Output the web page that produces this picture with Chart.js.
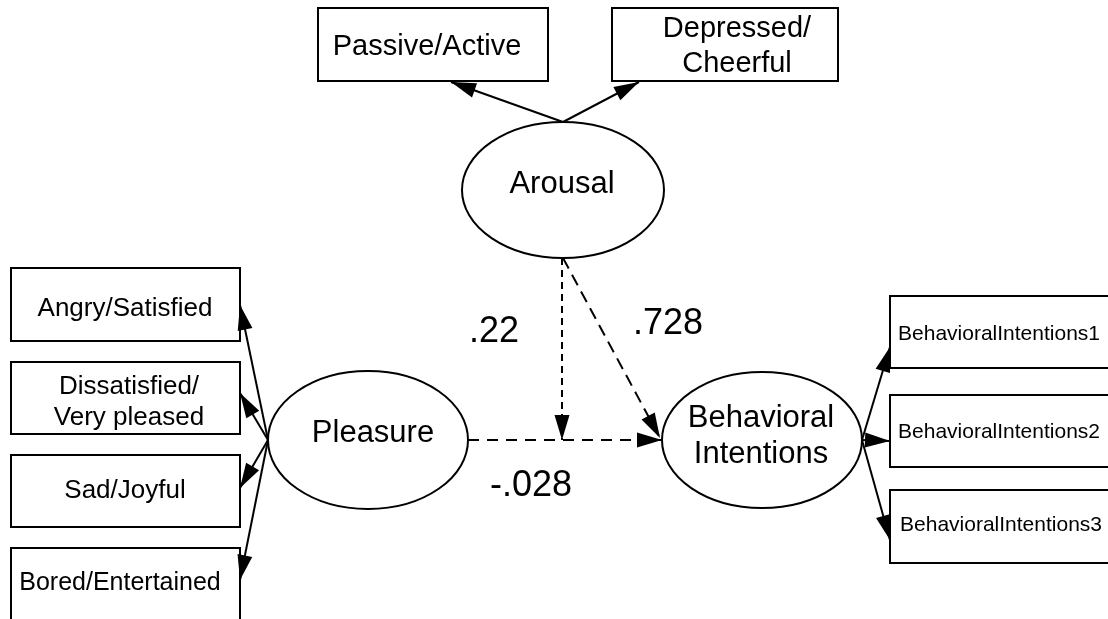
<!DOCTYPE html>
<html>
<head>
<meta charset="utf-8">
<script src="https://cdn.jsdelivr.net/npm/chart.js@4/dist/chart.umd.min.js"></script>
<style>
  html, body { margin: 0; padding: 0; background: #fff; }
  #wrap { width: 1108px; height: 619px; position: relative; }
</style>
</head>
<body>
<div id="wrap"><canvas id="sem"></canvas></div>
<script>
// SEM path diagram: Pleasure / Arousal -> Behavioral Intentions
// 좌표계: x 0..1108, y 0..619 (위→아래) — Chart.js linear 축으로 픽셀 변환

// ── 데이터 ──
const latentNames     = ['Arousal', 'Pleasure', 'Behavioral\nIntentions'];
const arousalItems    = ['Passive/Active', 'Depressed/\nCheerful'];
const pleasureItems   = ['Angry/Satisfied', 'Dissatisfied/\nVery pleased', 'Sad/Joyful', 'Bored/Entertained'];
const intentionItems  = ['BehavioralIntentions1', 'BehavioralIntentions2', 'BehavioralIntentions3'];
const pathCoefs       = ['.22', '.728', '-.028'];   // 조절효과, Arousal→BI, Pleasure→BI

// ── 레이아웃 (도식 좌표) ──
const LATENT = [
  { cx: 563, cy: 190, rx: 101, ry: 68, tx: 562, ty: [193],      size: 31 },
  { cx: 368, cy: 440, rx: 100, ry: 69, tx: 373, ty: [442],      size: 31 },
  { cx: 762, cy: 440, rx: 100, ry: 68, tx: 761, ty: [427, 463], size: 31 },
];
const BOX_AROUSAL = [
  { x: 318, y: 8, w: 230, h: 73, tx: 427, ty: [55],     size: 29 },
  { x: 612, y: 8, w: 226, h: 73, tx: 737, ty: [37, 72], size: 29 },
];
const BOX_PLEASURE = [
  { x: 11, y: 268, w: 229, h: 73, tx: 125, ty: [316],      size: 26 },
  { x: 11, y: 362, w: 229, h: 72, tx: 129, ty: [394, 425], size: 26 },
  { x: 11, y: 455, w: 229, h: 72, tx: 125, ty: [498],      size: 26 },
  { x: 11, y: 548, w: 229, h: 90, tx: 120, ty: [590],      size: 25 },
];
const BOX_INTENT = [
  { x: 890, y: 296, w: 240, h: 72, tx: 999,  ty: [340], size: 21 },
  { x: 890, y: 395, w: 240, h: 72, tx: 999,  ty: [438], size: 21 },
  { x: 890, y: 490, w: 240, h: 73, tx: 1001, ty: [531], size: 21 },
];
const COEF_POS = [ { x: 494, y: 342 }, { x: 668, y: 334 }, { x: 531, y: 496 } ];

// 화살표: [시작, 끝(화살촉)], dash
const EDGES = [
  { a: [563, 122], b: [451, 82],  dash: [] },
  { a: [563, 122], b: [639, 82],  dash: [] },
  { a: [268, 440], b: [240, 305], dash: [] },
  { a: [268, 440], b: [240, 393], dash: [] },
  { a: [268, 440], b: [240, 488], dash: [] },
  { a: [268, 440], b: [240, 580], dash: [] },
  { a: [862, 440], b: [890, 347], dash: [] },
  { a: [862, 440], b: [890, 441], dash: [] },
  { a: [862, 440], b: [890, 540], dash: [] },
  { a: [468, 440], b: [662, 440], dash: [11, 8] },
  { a: [562, 258], b: [562, 440], dash: [7, 5] },
  { a: [563, 258], b: [660, 438], dash: [12, 7] },
];

const FONT = '"Liberation Sans", Arial, sans-serif';

function drawLabel(ctx, chart, text, tx, tys, size) {
  const X = chart.scales.x, Y = chart.scales.y;
  ctx.font = `${size}px ${FONT}`;
  ctx.fillStyle = '#000';
  ctx.textAlign = 'center';
  ctx.textBaseline = 'alphabetic';
  text.split('\n').forEach((line, i) => {
    ctx.fillText(line, X.getPixelForValue(tx), Y.getPixelForValue(tys[i]));
  });
}

const semPlugin = {
  id: 'sem',
  beforeDatasetsDraw(chart) {
    const { ctx } = chart;
    const X = chart.scales.x, Y = chart.scales.y;
    ctx.save();
    ctx.lineWidth = 2;
    ctx.strokeStyle = '#000';
    ctx.fillStyle = '#fff';
    [...BOX_AROUSAL, ...BOX_PLEASURE, ...BOX_INTENT].forEach(b => {
      const x0 = X.getPixelForValue(b.x), y0 = Y.getPixelForValue(b.y);
      const x1 = X.getPixelForValue(b.x + b.w), y1 = Y.getPixelForValue(b.y + b.h);
      ctx.fillRect(x0, y0, x1 - x0, y1 - y0);
      ctx.strokeRect(x0, y0, x1 - x0, y1 - y0);
    });
    LATENT.forEach(e => {
      const cx = X.getPixelForValue(e.cx), cy = Y.getPixelForValue(e.cy);
      const rx = X.getPixelForValue(e.cx + e.rx) - cx, ry = Y.getPixelForValue(e.cy + e.ry) - cy;
      ctx.beginPath();
      ctx.ellipse(cx, cy, Math.abs(rx), Math.abs(ry), 0, 0, Math.PI * 2);
      ctx.fill();
      ctx.stroke();
    });
    ctx.restore();
  },
  afterDatasetsDraw(chart) {
    const { ctx } = chart;
    const X = chart.scales.x, Y = chart.scales.y;
    ctx.save();
    // 화살촉
    ctx.fillStyle = '#000';
    EDGES.forEach(e => {
      const ax = X.getPixelForValue(e.a[0]), ay = Y.getPixelForValue(e.a[1]);
      const bx = X.getPixelForValue(e.b[0]), by = Y.getPixelForValue(e.b[1]);
      const ang = Math.atan2(by - ay, bx - ax);
      const len = 25, hw = 7.5;
      const bxp = bx - len * Math.cos(ang), byp = by - len * Math.sin(ang);
      ctx.beginPath();
      ctx.moveTo(bx, by);
      ctx.lineTo(bxp + hw * Math.sin(ang), byp - hw * Math.cos(ang));
      ctx.lineTo(bxp - hw * Math.sin(ang), byp + hw * Math.cos(ang));
      ctx.closePath();
      ctx.fill();
    });
    // 텍스트
    latentNames.forEach((t, i) => drawLabel(ctx, chart, t, LATENT[i].tx, LATENT[i].ty, LATENT[i].size));
    arousalItems.forEach((t, i) => drawLabel(ctx, chart, t, BOX_AROUSAL[i].tx, BOX_AROUSAL[i].ty, BOX_AROUSAL[i].size));
    pleasureItems.forEach((t, i) => drawLabel(ctx, chart, t, BOX_PLEASURE[i].tx, BOX_PLEASURE[i].ty, BOX_PLEASURE[i].size));
    intentionItems.forEach((t, i) => drawLabel(ctx, chart, t, BOX_INTENT[i].tx, BOX_INTENT[i].ty, BOX_INTENT[i].size));
    pathCoefs.forEach((t, i) => drawLabel(ctx, chart, t, COEF_POS[i].x, [COEF_POS[i].y], 36));
    ctx.restore();
  },
};

new Chart(document.getElementById('sem').getContext('2d'), {
  type: 'scatter',
  data: {
    datasets: EDGES.map(e => ({
      type: 'line',
      data: [{ x: e.a[0], y: e.a[1] }, { x: e.b[0], y: e.b[1] }],
      borderColor: '#000',
      borderWidth: 2,
      borderDash: e.dash,
      pointRadius: 0,
      showLine: true,
      fill: false,
      tension: 0,
      clip: false,
    })),
  },
  options: {
    responsive: true,
    maintainAspectRatio: false,
    animation: false,
    events: [],
    layout: { padding: 0 },
    plugins: { legend: { display: false }, tooltip: { enabled: false } },
    scales: {
      x: { type: 'linear', min: 0, max: 1108, display: false },
      y: { type: 'linear', min: 0, max: 619, reverse: true, display: false },
    },
  },
  plugins: [semPlugin],
});
</script>
</body>
</html>
